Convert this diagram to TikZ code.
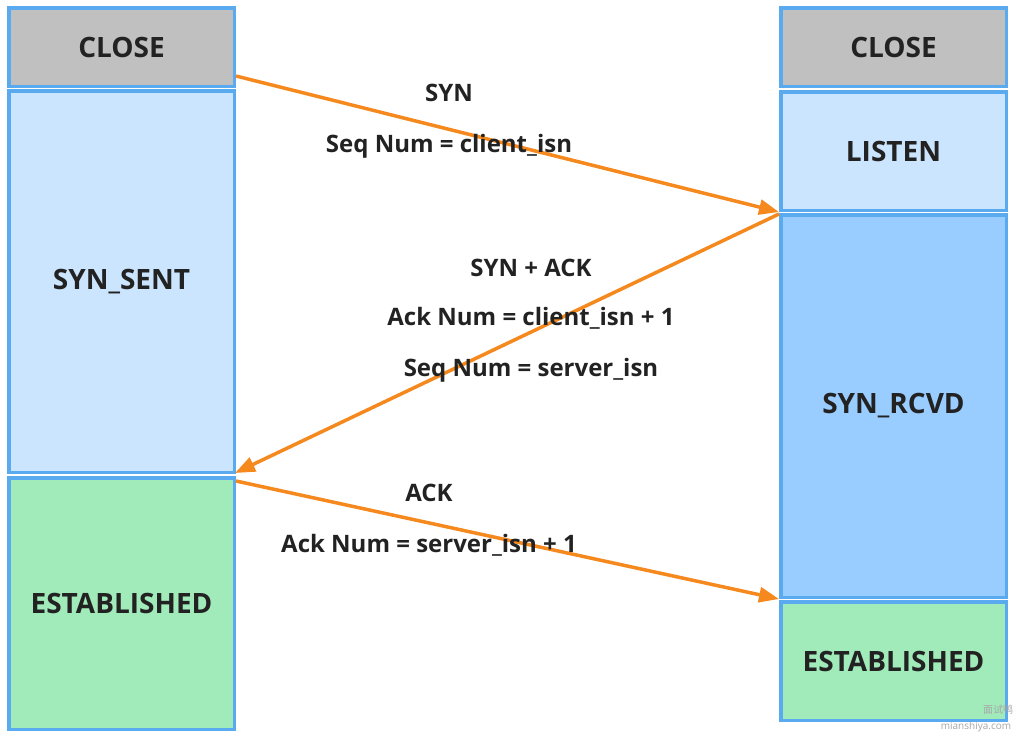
\documentclass[tikz,border=0pt]{standalone}
\usepackage{fontspec}
\setmainfont{Open Sans}
\newfontfamily\cjk{Noto Sans CJK SC}
\usetikzlibrary{arrows.meta}
\definecolor{bordc}{HTML}{5AAAF0}
\definecolor{grayc}{HTML}{C0C0C0}
\definecolor{lblue}{HTML}{CCE5FF}
\definecolor{mblue}{HTML}{99CCFF}
\definecolor{greenc}{HTML}{A1EBBB}
\definecolor{orangec}{HTML}{F5891E}
\definecolor{txtc}{HTML}{222222}
\tikzset{
  statebox/.style={draw=bordc, line width=3.5pt, minimum width=225.5pt, inner sep=0pt,
    font=\fontsize{28}{32}\selectfont\bfseries, text=txtc},
  msg/.style={draw=orangec, line width=3.5pt, -{Triangle[length=20pt,width=15pt]}, shorten >=0pt},
  lbl/.style={font=\fontsize{24}{28}\selectfont\bfseries, text=txtc, inner sep=0pt},
  wm/.style={font=\fontsize{10}{12}\selectfont, text=gray!70, inner sep=0pt}
}
\begin{document}
\begin{tikzpicture}[x=1pt,y=-1pt]
\useasboundingbox (0,0) rectangle (1021,737);
% left column
\node[statebox, fill=grayc, minimum height=78.5pt] (lclose) at (121.5,47) {CLOSE};
\node[statebox, fill=lblue, minimum height=381.5pt] (lsent) at (121.5,281.5) {SYN\_SENT};
\node[statebox, fill=greenc, minimum height=251.5pt] (lest) at (121.5,603.5) {ESTABLISHED};
% right column
\node[statebox, fill=grayc, minimum height=78.5pt] (rclose) at (893.5,47) {CLOSE};
\node[statebox, fill=lblue, minimum height=118.5pt] (rlisten) at (893.5,151) {LISTEN};
\node[statebox, fill=mblue, minimum height=382.5pt] (rrcvd) at (893.5,406) {SYN\_RCVD};
\node[statebox, fill=greenc, minimum height=118.5pt] (rest) at (893.5,661) {ESTABLISHED};
% connector end points
\coordinate (a1) at (236,76);
\coordinate (b1) at (779,212);
\coordinate (a2) at (779,214);
\coordinate (b2) at (235,473);
\coordinate (a3) at (236,481);
\coordinate (b3) at (779,599);
\draw[msg] (a1) -- (b1);
\draw[msg] (a2) -- (b2);
\draw[msg] (a3) -- (b3);
% labels
\node[lbl] (l1a) at (449,93) {SYN};
\node[lbl] (l1b) at (449,146) {Seq Num = client\_isn};
\node[lbl] (l2a) at (531,268) {SYN + ACK};
\node[lbl] (l2b) at (531,318) {Ack Num = client\_isn + 1};
\node[lbl] (l2c) at (531,370) {Seq Num = server\_isn};
\node[lbl] (l3a) at (429,493) {ACK};
\node[lbl] (l3b) at (429,545) {Ack Num = server\_isn + 1};
% watermark
\node[wm, font=\cjk\fontsize{10}{12}\selectfont] (wm1) at (998,710) {面试鸭};
\node[wm] (wm2) at (976,727) {mianshiya.com};
\end{tikzpicture}
\end{document}
